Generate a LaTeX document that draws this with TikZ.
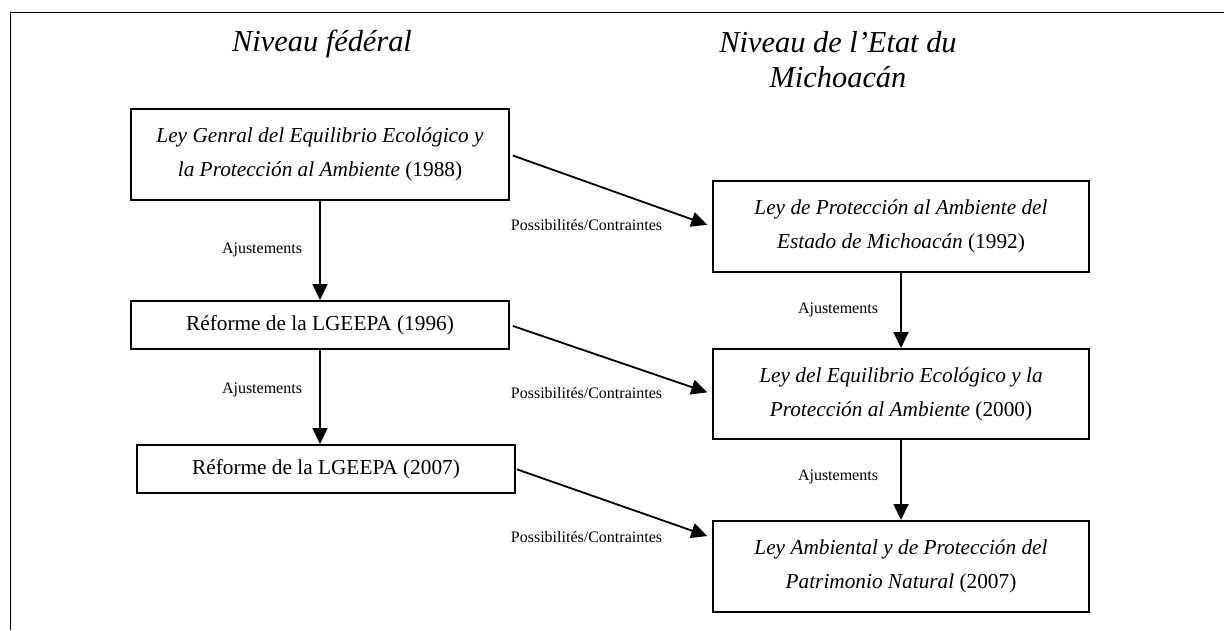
\documentclass[tikz,border=0pt]{standalone}
\usepackage{fontspec}
\setmainfont{Liberation Serif}
\usetikzlibrary{arrows.meta,calc}
\begin{document}
\begin{tikzpicture}[x=1pt,y=-1pt,
  box/.style={draw,line width=2pt,inner sep=0pt,font=\fontsize{21.3}{34}\selectfont,align=center},
  arr/.style={line width=1.8pt,-{Triangle[length=16pt,width=15pt]}},
  lab/.style={font=\fontsize{16}{19}\selectfont,inner sep=0pt},
  ttl/.style={font=\fontsize{30.4}{35}\selectfont\itshape,align=center,inner sep=0pt}]
\useasboundingbox (0,0) rectangle (1224,630);
\draw[line width=1.8pt] (10.5,630) -- (10.5,12.5) -- (1224,12.5);
% titles
\node[ttl] (t1) at (322,44) {Niveau fédéral};
\node[ttl] (t2) at (838,60) {Niveau de l’Etat du\\Michoacán};
% federal boxes
\node[box,minimum width=378pt,minimum height=91pt] (b1) at (320,154.5)
  {\textit{Ley Genral del Equilibrio Ecológico y}\\\textit{la Protección al Ambiente} (1988)};
\node[box,minimum width=378pt,minimum height=48pt] (b2) at (320,325)
  {Réforme de la LGEEPA (1996)};
\node[box,minimum width=378pt,minimum height=48pt] (b3) at (326,469)
  {Réforme de la LGEEPA (2007)};
% state boxes
\node[box,minimum width=376pt,minimum height=91pt] (r1) at (901,226.5)
  {\textit{Ley de Protección al Ambiente del}\\\textit{Estado de Michoacán} (1992)};
\node[box,minimum width=376pt,minimum height=90pt] (r2) at (901,394)
  {\textit{Ley del Equilibrio Ecológico y la}\\\textit{Protección al Ambiente} (2000)};
\node[box,minimum width=376pt,minimum height=91pt] (r3) at (901,566.5)
  {\textit{Ley Ambiental y de Protección del}\\\textit{Patrimonio Natural} (2007)};
% vertical arrows
\draw[arr] (b1.south) -- (b1.south |- b2.north);
\draw[arr] (b2.south) -- (b2.south |- b3.north);
\draw[arr] (r1.south) -- (r2.north);
\draw[arr] (r2.south) -- (r3.north);
% diagonal arrows
\coordinate (r3in) at ($(r3.north west)!0.19!(r3.south west)$);
\draw[arr,shorten <=3pt,shorten >=5pt] (b1.east) -- (r1.west);
\draw[arr,shorten <=3pt,shorten >=5pt] (b2.east) -- (r2.west);
\draw[arr,shorten <=1pt,shorten >=5pt] (b3.east) -- (r3in);
% labels
\node[lab] (a1) at (262,250) {Ajustements};
\node[lab] (a2) at (262,390) {Ajustements};
\node[lab] (a3) at (838,310) {Ajustements};
\node[lab] (a4) at (838,477) {Ajustements};
\node[lab] (p1) at (586.5,225) {Possibilités/Contraintes};
\node[lab] (p2) at (586.5,393) {Possibilités/Contraintes};
\node[lab] (p3) at (586.5,537) {Possibilités/Contraintes};
\end{tikzpicture}
\end{document}
